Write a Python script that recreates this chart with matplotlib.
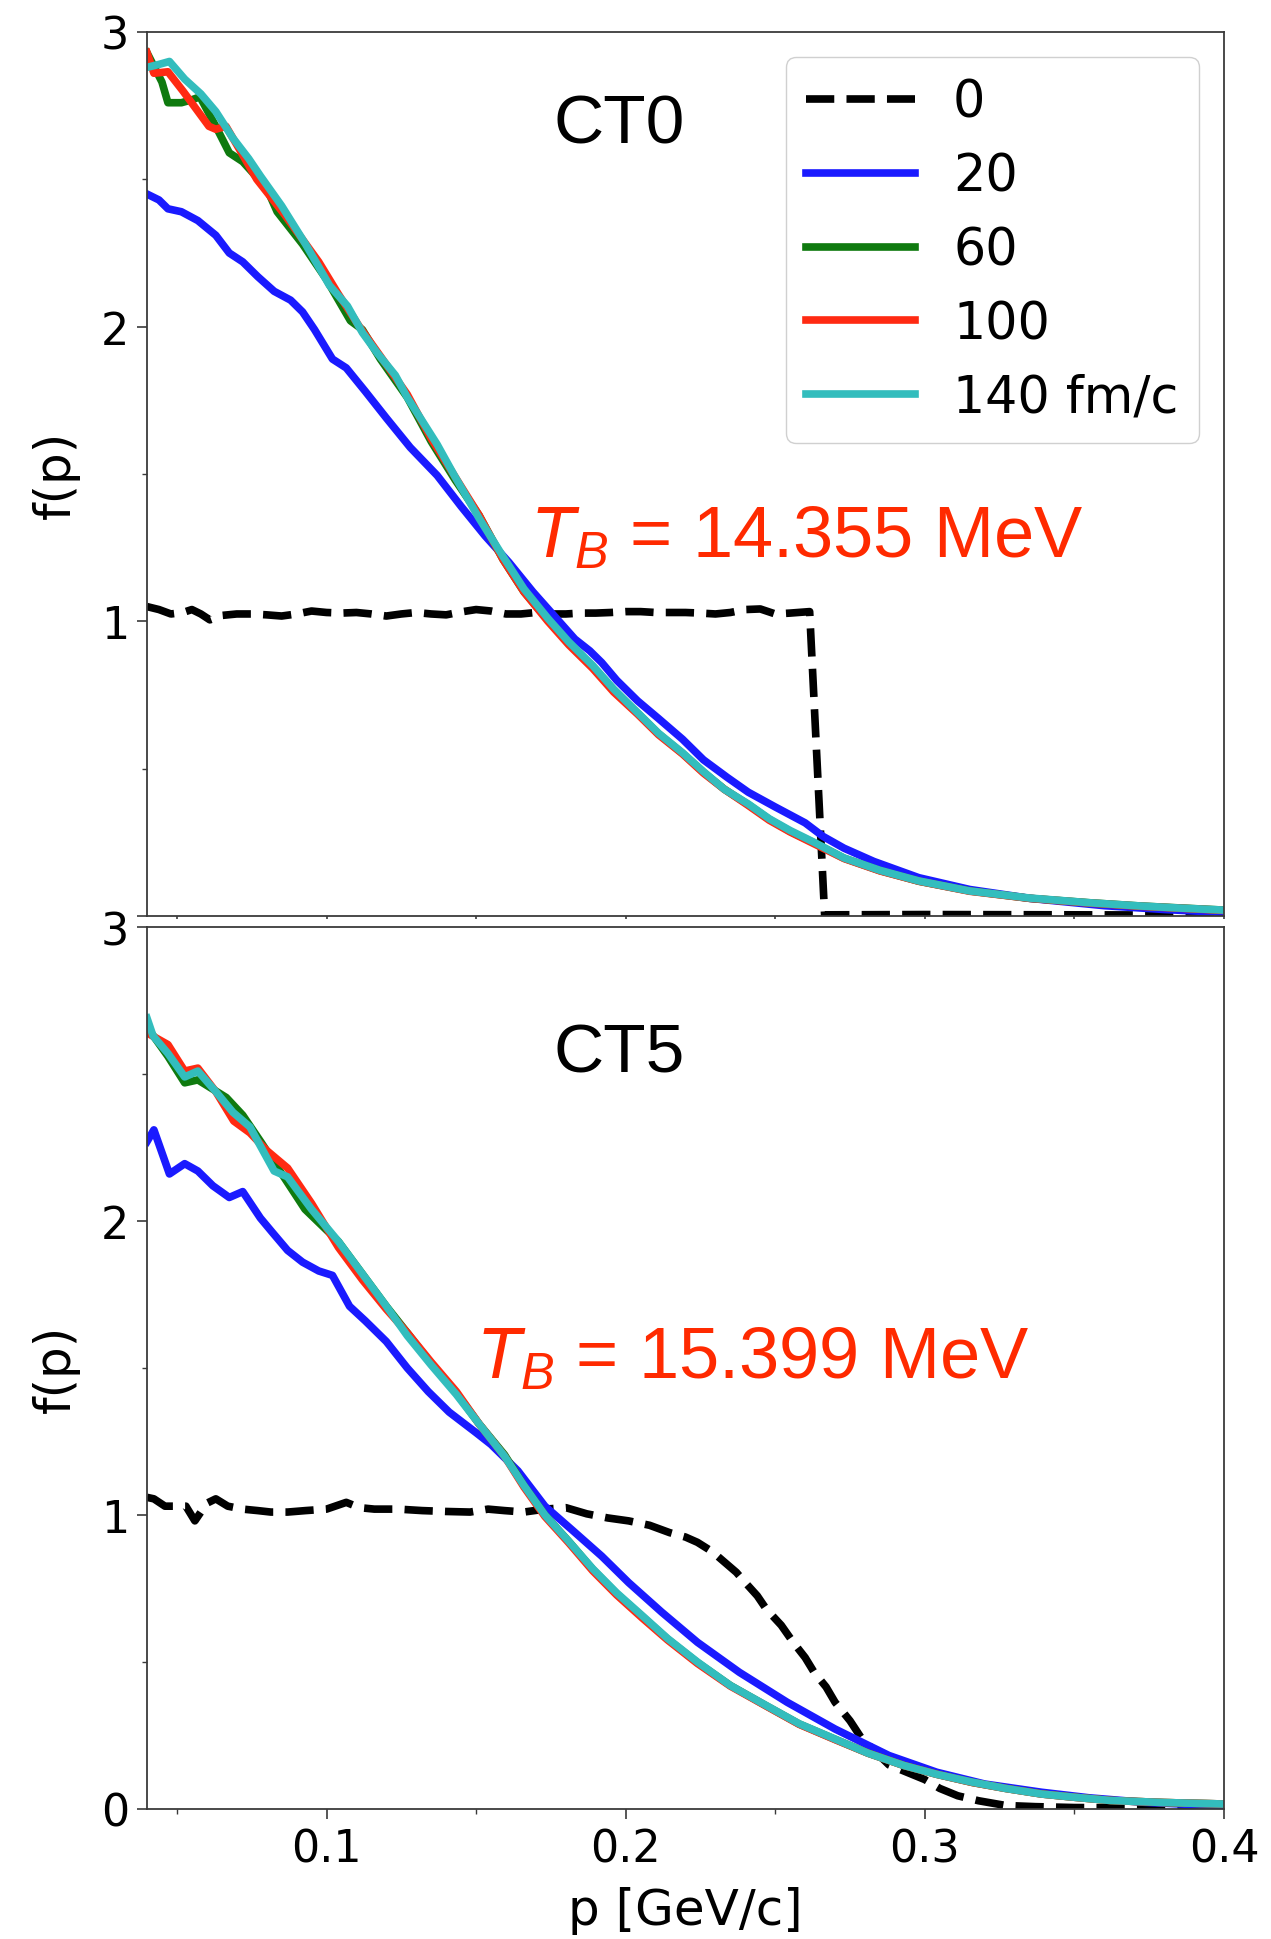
import matplotlib
matplotlib.use('Agg')
import matplotlib.pyplot as plt
from matplotlib.ticker import MultipleLocator

plt.rcParams['mathtext.fontset'] = 'custom'
plt.rcParams['mathtext.rm'] = 'Liberation Sans'
plt.rcParams['mathtext.it'] = 'Liberation Sans:italic'

# ---------------- data: CT0 (top panel) ----------------
ct0_t0_p = [0.040, 0.044, 0.048, 0.052, 0.055, 0.058, 0.061, 0.065, 0.070, 0.075, 0.080, 0.085,
            0.090, 0.095, 0.100, 0.105, 0.110, 0.115, 0.120, 0.125, 0.130, 0.135, 0.140, 0.145,
            0.150, 0.155, 0.160, 0.165, 0.170, 0.175, 0.180, 0.185, 0.190, 0.195, 0.200, 0.205,
            0.210, 0.215, 0.220, 0.225, 0.230, 0.235, 0.240, 0.245, 0.250, 0.255, 0.2615, 0.2665,
            0.300, 0.350, 0.400]
ct0_t0_f = [1.050, 1.040, 1.025, 1.030, 1.040, 1.025, 1.005, 1.020, 1.025, 1.025, 1.022, 1.018,
            1.025, 1.035, 1.030, 1.028, 1.030, 1.025, 1.018, 1.025, 1.030, 1.025, 1.022, 1.032,
            1.040, 1.035, 1.025, 1.025, 1.030, 1.025, 1.025, 1.028, 1.028, 1.030, 1.033, 1.033,
            1.030, 1.030, 1.030, 1.028, 1.025, 1.030, 1.040, 1.042, 1.025, 1.028, 1.033, 0.004,
            0.005, 0.004, 0.003]

ct0_t20_p = [0.040, 0.044, 0.047, 0.0515, 0.057, 0.063, 0.0675, 0.072, 0.077, 0.0825, 0.088, 0.092,
             0.096, 0.102, 0.1066, 0.113, 0.120, 0.128, 0.137, 0.145, 0.153, 0.161, 0.169, 0.176,
             0.183, 0.188, 0.192, 0.197, 0.204, 0.211, 0.219, 0.226, 0.234, 0.241, 0.250, 0.260,
             0.266, 0.273, 0.283, 0.298, 0.315, 0.335, 0.360, 0.380, 0.400]
ct0_t20_f = [2.45, 2.43, 2.40, 2.39, 2.36, 2.31, 2.25, 2.22, 2.17, 2.12, 2.09, 2.05,
             1.99, 1.89, 1.86, 1.78, 1.69, 1.59, 1.495, 1.39, 1.29, 1.20, 1.10, 1.02,
             0.94, 0.90, 0.86, 0.80, 0.73, 0.67, 0.60, 0.53, 0.47, 0.42, 0.37, 0.316,
             0.27, 0.23, 0.185, 0.13, 0.09, 0.06, 0.035, 0.022, 0.012]

ct0_t60_p = [0.040, 0.045, 0.047, 0.0515, 0.055, 0.0577, 0.063, 0.0675, 0.072, 0.080, 0.0835, 0.092,
             0.100, 0.108, 0.112, 0.118, 0.127, 0.135, 0.143, 0.151, 0.159, 0.166, 0.174, 0.181,
             0.189, 0.196, 0.204, 0.211, 0.219, 0.226, 0.233, 0.241, 0.248, 0.255, 0.263, 0.273,
             0.285, 0.298, 0.315, 0.335, 0.355, 0.372, 0.400]
ct0_t60_f = [2.93, 2.83, 2.76, 2.76, 2.77, 2.78, 2.68, 2.59, 2.56, 2.47, 2.39, 2.28,
             2.16, 2.02, 1.99, 1.89, 1.76, 1.61, 1.48, 1.36, 1.21, 1.10, 1.005, 0.925,
             0.845, 0.765, 0.688, 0.618, 0.552, 0.488, 0.43, 0.378, 0.328, 0.287, 0.248, 0.196,
             0.154, 0.118, 0.085, 0.06, 0.045, 0.034, 0.02]

ct0_t100_p = [0.040, 0.0423, 0.047, 0.052, 0.0607, 0.063, 0.0664, 0.071, 0.0767, 0.086, 0.0974, 0.104,
              0.111, 0.118, 0.127, 0.135, 0.143, 0.151, 0.159, 0.166, 0.174, 0.181, 0.189, 0.196,
              0.204, 0.211, 0.219, 0.226, 0.233, 0.241, 0.248, 0.255, 0.263, 0.273, 0.285, 0.298,
              0.315, 0.335, 0.355, 0.372, 0.400]
ct0_t100_f = [2.93, 2.86, 2.865, 2.80, 2.68, 2.67, 2.68, 2.60, 2.50, 2.38, 2.22, 2.11,
              2.00, 1.90, 1.77, 1.62, 1.49, 1.36, 1.21, 1.10, 1.00, 0.92, 0.84, 0.76,
              0.685, 0.615, 0.55, 0.485, 0.43, 0.375, 0.325, 0.285, 0.245, 0.195, 0.153, 0.118,
              0.084, 0.06, 0.044, 0.033, 0.019]

ct0_t140_p = [0.040, 0.044, 0.0475, 0.0526, 0.058, 0.063, 0.0687, 0.074, 0.078, 0.085, 0.093, 0.101,
              0.107, 0.112, 0.117, 0.123, 0.127, 0.132, 0.137, 0.143, 0.151, 0.159, 0.166, 0.174,
              0.181, 0.189, 0.196, 0.204, 0.211, 0.219, 0.226, 0.233, 0.241, 0.248, 0.255, 0.263,
              0.273, 0.285, 0.298, 0.315, 0.335, 0.355, 0.372, 0.385, 0.400]
ct0_t140_f = [2.88, 2.89, 2.90, 2.84, 2.79, 2.73, 2.64, 2.57, 2.51, 2.41, 2.28, 2.14,
              2.07, 1.98, 1.91, 1.835, 1.76, 1.68, 1.60, 1.49, 1.35, 1.22, 1.11, 1.01,
              0.93, 0.85, 0.77, 0.69, 0.62, 0.554, 0.49, 0.43, 0.38, 0.33, 0.29, 0.25,
              0.197, 0.155, 0.119, 0.085, 0.061, 0.045, 0.034, 0.027, 0.02]

# ---------------- data: CT5 (bottom panel) ----------------
ct5_t0_p = [0.040, 0.0423, 0.046, 0.049, 0.053, 0.056, 0.060, 0.063, 0.067, 0.072, 0.077, 0.0814,
            0.087, 0.093, 0.100, 0.1066, 0.111, 0.116, 0.124, 0.132, 0.140, 0.148, 0.154, 0.1595,
            0.166, 0.173, 0.180, 0.187, 0.194, 0.201, 0.208, 0.2147, 0.220, 0.224, 0.229, 0.233,
            0.237, 0.240, 0.244, 0.247, 0.252, 0.256, 0.260, 0.263, 0.267, 0.270, 0.275, 0.279,
            0.284, 0.288, 0.294, 0.300, 0.305, 0.311, 0.318, 0.327, 0.337, 0.350, 0.370, 0.400]
ct5_t0_f = [1.06, 1.055, 1.03, 1.03, 1.03, 0.98, 1.04, 1.055, 1.03, 1.02, 1.015, 1.01,
            1.01, 1.015, 1.02, 1.043, 1.025, 1.02, 1.02, 1.015, 1.012, 1.01, 1.02, 1.015,
            1.01, 1.02, 1.025, 1.004, 0.99, 0.98, 0.965, 0.94, 0.925, 0.907, 0.875, 0.84,
            0.805, 0.77, 0.725, 0.68, 0.625, 0.567, 0.515, 0.465, 0.415, 0.363, 0.30, 0.238,
            0.19, 0.15, 0.125, 0.10, 0.07, 0.045, 0.028, 0.012, 0.008, 0.005, 0.004, 0.003]

ct5_t20_p = [0.040, 0.0423, 0.0475, 0.0526, 0.057, 0.062, 0.0675, 0.072, 0.0779, 0.082, 0.087, 0.092,
             0.0974, 0.102, 0.1077, 0.113, 0.120, 0.127, 0.134, 0.141, 0.150, 0.155, 0.164, 0.173,
             0.182, 0.192, 0.201, 0.212, 0.224, 0.238, 0.254, 0.270, 0.288, 0.304, 0.320, 0.339,
             0.355, 0.373, 0.400]
ct5_t20_f = [2.27, 2.31, 2.16, 2.195, 2.17, 2.12, 2.08, 2.10, 2.01, 1.96, 1.90, 1.86,
             1.83, 1.815, 1.71, 1.66, 1.59, 1.50, 1.42, 1.35, 1.28, 1.24, 1.15, 1.03,
             0.95, 0.86, 0.77, 0.67, 0.567, 0.465, 0.363, 0.272, 0.182, 0.125, 0.085, 0.057,
             0.038, 0.023, 0.01]

ct5_t60_p = [0.040, 0.047, 0.0526, 0.057, 0.0665, 0.072, 0.078, 0.0928, 0.104, 0.112, 0.120, 0.127,
             0.135, 0.1434, 0.151, 0.1595, 0.166, 0.173, 0.181, 0.189, 0.197, 0.2055, 0.214, 0.224,
             0.235, 0.247, 0.258, 0.270, 0.281, 0.293, 0.304, 0.316, 0.327, 0.339, 0.350, 0.362,
             0.380, 0.400]
ct5_t60_f = [2.66, 2.56, 2.47, 2.48, 2.42, 2.36, 2.27, 2.04, 1.93, 1.82, 1.71, 1.62,
             1.515, 1.415, 1.31, 1.205, 1.10, 1.00, 0.91, 0.815, 0.732, 0.655, 0.578, 0.498,
             0.42, 0.351, 0.289, 0.237, 0.19, 0.148, 0.118, 0.09, 0.07, 0.051, 0.04, 0.029,
             0.022, 0.017]

ct5_t100_p = [0.040, 0.047, 0.0526, 0.057, 0.063, 0.069, 0.0744, 0.080, 0.087, 0.095, 0.104, 0.112,
              0.120, 0.127, 0.135, 0.1434, 0.151, 0.1595, 0.166, 0.173, 0.181, 0.189, 0.197, 0.2055,
              0.214, 0.224, 0.235, 0.247, 0.258, 0.270, 0.281, 0.293, 0.304, 0.316, 0.327, 0.339,
              0.350, 0.362, 0.380, 0.400]
ct5_t100_f = [2.64, 2.60, 2.51, 2.52, 2.44, 2.34, 2.30, 2.24, 2.18, 2.06, 1.91, 1.80,
              1.70, 1.62, 1.52, 1.42, 1.31, 1.20, 1.095, 0.995, 0.905, 0.81, 0.728, 0.65,
              0.575, 0.495, 0.418, 0.35, 0.288, 0.236, 0.19, 0.148, 0.118, 0.09, 0.07, 0.051,
              0.04, 0.029, 0.022, 0.017]

ct5_t140_p = [0.040, 0.042, 0.047, 0.0526, 0.057, 0.063, 0.0687, 0.0744, 0.0825, 0.087, 0.095, 0.104,
              0.112, 0.120, 0.127, 0.135, 0.1434, 0.151, 0.1595, 0.166, 0.173, 0.181, 0.189, 0.197,
              0.2055, 0.214, 0.224, 0.235, 0.247, 0.258, 0.270, 0.281, 0.293, 0.304, 0.316, 0.327,
              0.339, 0.350, 0.362, 0.380, 0.400]
ct5_t140_f = [2.69, 2.63, 2.57, 2.49, 2.51, 2.44, 2.37, 2.32, 2.17, 2.15, 2.04, 1.93,
              1.82, 1.71, 1.61, 1.51, 1.41, 1.31, 1.20, 1.10, 1.00, 0.91, 0.817, 0.735,
              0.658, 0.58, 0.50, 0.42, 0.352, 0.29, 0.238, 0.19, 0.148, 0.118, 0.091, 0.07,
              0.051, 0.04, 0.029, 0.022, 0.017]

labels = ['0', '20', '60', '100', '140 fm/c']
colors = ['black', '#1a1aff', '#0f7a0f', '#ff2a12', '#33bdbd']
styles = ['--', '-', '-', '-', '-']
panel_names = ['CT0', 'CT5']
temperatures = ['14.355', '15.399']

top_series = [(ct0_t0_p, ct0_t0_f), (ct0_t20_p, ct0_t20_f), (ct0_t60_p, ct0_t60_f),
              (ct0_t100_p, ct0_t100_f), (ct0_t140_p, ct0_t140_f)]
bot_series = [(ct5_t0_p, ct5_t0_f), (ct5_t20_p, ct5_t20_f), (ct5_t60_p, ct5_t60_f),
              (ct5_t100_p, ct5_t100_f), (ct5_t140_p, ct5_t140_f)]

fig = plt.figure(figsize=(12.71, 19.40), dpi=100)
ax1 = fig.add_axes([147 / 1271, 1 - 917 / 1940, 1077 / 1271, 884 / 1940])
ax2 = fig.add_axes([147 / 1271, 1 - 1810 / 1940, 1077 / 1271, 882 / 1940])

lw = 5.5
for ax, series in ((ax1, top_series), (ax2, bot_series)):
    for (p, f), lab, c, ls in zip(series, labels, colors, styles):
        ax.plot(p, f, ls, color=c, lw=lw, label=lab)
    ax.set_xlim(0.04, 0.4)
    ax.set_ylim(0, 3)
    ax.xaxis.set_minor_locator(MultipleLocator(0.05))
    ax.yaxis.set_minor_locator(MultipleLocator(0.5))
    for s in ax.spines.values():
        s.set_color('#3a3a3a')
        s.set_linewidth(1.3)
    ax.tick_params(which='major', direction='out', length=7, width=1.2, colors='#3a3a3a',
                   labelsize=32, labelcolor='black', pad=6)
    ax.tick_params(which='minor', direction='out', length=3.6, width=1.0, colors='#3a3a3a')
    ax.set_ylabel('f(p)', fontsize=36)
    ax.yaxis.set_label_coords(-0.062, 0.5)

ax1.set_yticks([0, 1, 2, 3])
ax1.set_yticklabels(['', '1', '2', '3'])
ax1.tick_params(axis='x', which='both', length=2.5, labelbottom=False)
ax2.set_yticks([0, 1, 2, 3])
ax2.set_xticks([0.1, 0.2, 0.3, 0.4])
ax2.set_xticklabels(['0.1', '0.2', '0.3', '0.4'])
ax2.set_xlabel('p [GeV/c]', fontsize=36)
ax2.xaxis.set_label_coords(0.5, -0.087)

leg = ax1.legend(loc='upper right', fontsize=36.5, handlelength=2.15, handletextpad=0.75,
                 labelspacing=0.47, borderaxespad=0.5, borderpad=0.4, framealpha=1.0,
                 edgecolor='#d0d0d0', fancybox=True)

ax1.text(0.198, 2.625, panel_names[0], fontsize=50, family='Liberation Sans',
         ha='center', va='baseline', color='black')
ax2.text(0.198, 2.507, panel_names[1], fontsize=50, family='Liberation Sans',
         ha='center', va='baseline', color='black')
ax1.text(0.168, 1.218, r'$T_B$ = ' + temperatures[0] + ' MeV', fontsize=52,
         family='Liberation Sans', ha='left', va='baseline', color='#ff2a00')
ax2.text(0.150, 1.466, r'$T_B$ = ' + temperatures[1] + ' MeV', fontsize=52,
         family='Liberation Sans', ha='left', va='baseline', color='#ff2a00')

fig.savefig('out.png', dpi=100)
